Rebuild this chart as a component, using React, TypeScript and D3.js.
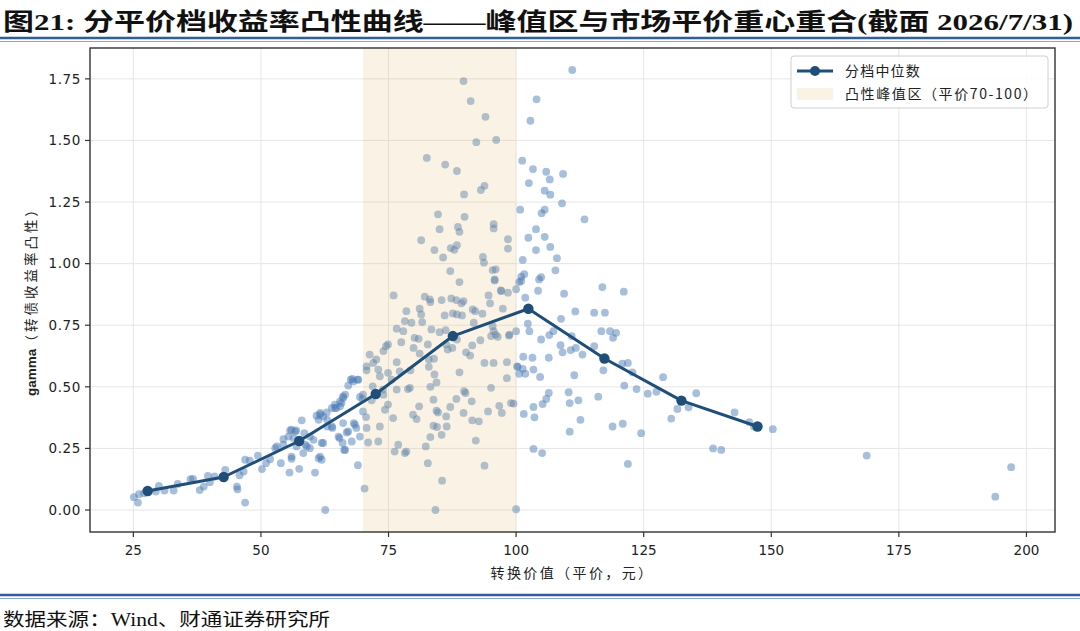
import * as d3 from "d3";

// 转换价值（平价）与 gamma 散点
const bondPoints: [number, number][] = [
  [25.1, 0.052], [25.9, 0.03], [26.1, 0.064], [27.1, 0.068], [29.4, 0.075], [30.0, 0.098], [31.1, 0.079],
  [32.9, 0.079], [33.7, 0.106], [36.2, 0.125], [36.7, 0.126], [38.0, 0.081], [38.8, 0.095], [39.6, 0.138],
  [40.0, 0.113], [40.9, 0.136], [43.0, 0.163], [45.3, 0.095], [45.4, 0.084], [45.8, 0.141], [46.6, 0.156],
  [46.9, 0.03], [46.9, 0.204], [47.8, 0.2], [49.4, 0.221], [50.2, 0.166], [51.0, 0.19], [51.8, 0.206],
  [52.8, 0.251], [53.9, 0.19], [54.4, 0.265], [55.6, 0.152], [55.7, 0.323], [56.0, 0.208], [56.4, 0.292],
  [56.9, 0.323], [57.0, 0.258], [57.5, 0.167], [58.0, 0.364], [58.5, 0.312], [59.0, 0.258], [59.6, 0.251],
  [60.6, 0.152], [60.9, 0.383], [61.3, 0.21], [61.6, 0.387], [61.9, 0.204], [62.2, 0.272], [62.6, 0.0],
  [62.9, 0.396], [63.0, 0.366], [63.9, 0.339], [64.5, 0.414], [65.4, 0.292], [65.5, 0.441], [65.8, 0.434],
  [66.1, 0.461], [66.3, 0.244], [66.8, 0.315], [67.1, 0.505], [67.6, 0.529], [67.8, 0.278], [68.2, 0.353],
  [69.0, 0.182], [69.1, 0.529],
  [61.6, 0.394], [66.5, 0.468], [67.9, 0.532], [68.9, 0.529], [64.5, 0.428], [64.8, 0.414], [63.9, 0.414],
  [66.1, 0.353], [68.7, 0.333], [65.2, 0.298], [67.1, 0.319], [66.0, 0.272], [66.5, 0.244], [62.2, 0.38],
  [61.3, 0.366], [63.0, 0.339], [64.0, 0.333], [59.6, 0.298], [60.3, 0.285], [58.7, 0.265], [61.9, 0.272],
  [56.7, 0.319], [56.0, 0.326], [55.4, 0.298], [54.4, 0.288], [53.1, 0.258], [58.3, 0.231], [61.6, 0.217],
  [56.0, 0.217], [68.1, 0.522], [65.5, 0.421], [66.1, 0.455],
  [76.0, 0.871], [78.5, 0.807], [76.6, 0.736], [77.9, 0.726], [78.2, 0.767], [74.9, 0.672], [74.5, 0.665],
  [74.0, 0.645], [71.3, 0.631], [72.6, 0.611], [72.0, 0.597], [70.7, 0.583], [73.0, 0.57], [73.3, 0.543],
  [76.6, 0.6], [77.2, 0.563], [71.9, 0.502], [74.0, 0.468], [76.6, 0.489], [78.8, 0.491], [70.0, 0.468],
  [71.7, 0.445], [74.9, 0.428], [74.3, 0.407], [70.0, 0.4], [70.6, 0.377], [75.9, 0.373], [73.3, 0.339],
  [70.7, 0.333], [68.4, 0.346], [69.4, 0.298], [71.0, 0.274], [73.0, 0.278], [76.9, 0.265], [76.2, 0.237],
  [78.2, 0.231], [77.5, 0.681], [74.9, 0.557], [75.6, 0.529], [73.9, 0.489], [69.4, 0.459], [69.9, 0.451],
  [70.3, 0.087], [70.7, 0.567], [78.5, 0.237],
  [88.9, 0.925], [95.8, 0.932], [101.0, 0.93], [82.1, 0.866], [83.1, 0.855], [83.2, 0.844], [85.4, 0.852],
  [87.3, 0.859], [88.3, 0.852], [89.3, 0.839], [89.7, 0.848], [94.6, 0.871], [94.9, 0.839], [97.1, 0.889],
  [98.4, 0.882], [100.0, 0.896], [101.8, 0.862], [81.1, 0.817], [81.4, 0.794], [86.0, 0.79], [87.6, 0.798],
  [88.4, 0.794], [89.4, 0.79], [91.5, 0.814], [92.0, 0.807], [93.4, 0.797], [97.4, 0.817], [79.5, 0.76],
  [81.6, 0.763], [83.4, 0.733], [85.0, 0.722], [86.2, 0.73], [91.7, 0.76], [95.4, 0.746], [95.6, 0.726],
  [96.0, 0.712], [95.1, 0.706], [96.4, 0.703], [98.7, 0.712], [100.0, 0.726], [80.1, 0.699], [80.9, 0.695],
  [82.7, 0.672], [86.3, 0.672], [86.6, 0.651], [87.5, 0.658], [88.4, 0.692], [93.0, 0.689], [79.9, 0.658],
  [81.1, 0.635], [82.9, 0.611], [83.9, 0.614], [90.2, 0.64], [91.0, 0.627], [91.4, 0.668], [82.9, 0.581],
  [79.3, 0.567], [84.0, 0.55], [88.9, 0.559], [93.8, 0.597], [95.6, 0.597], [98.2, 0.6], [98.2, 0.535],
  [100.2, 0.583], [84.4, 0.518], [83.2, 0.5], [79.2, 0.496], [95.1, 0.496], [89.8, 0.482], [90.1, 0.475],
  [83.8, 0.448], [88.3, 0.451], [91.3, 0.441], [99.0, 0.434], [99.5, 0.432], [81.0, 0.421], [87.1, 0.418],
  [96.7, 0.423], [84.4, 0.403], [84.7, 0.396], [94.5, 0.4], [97.2, 0.394], [89.7, 0.394], [79.8, 0.387],
  [80.5, 0.369], [86.3, 0.38], [91.4, 0.364], [92.7, 0.36], [83.8, 0.342], [84.5, 0.337], [86.4, 0.339],
  [85.4, 0.305], [83.2, 0.296], [92.1, 0.282], [82.3, 0.258], [82.7, 0.19], [93.8, 0.18], [85.5, 0.119],
  [84.2, 0.0], [100.0, 0.003],
  [89.7, 1.741], [91.1, 1.66], [94.0, 1.596], [92.2, 1.493], [96.1, 1.502], [82.5, 1.429], [86.1, 1.402],
  [88.4, 1.376], [93.1, 1.299], [93.8, 1.316], [89.8, 1.281], [84.7, 1.2], [89.9, 1.19], [85.0, 1.14],
  [88.6, 1.149], [88.9, 1.129], [95.6, 1.16], [95.6, 1.143], [81.4, 1.095], [84.0, 1.055], [85.7, 1.025],
  [87.2, 1.063], [87.9, 1.056], [88.4, 1.075], [98.4, 1.099], [98.4, 1.061], [93.5, 1.027], [93.7, 1.004],
  [95.4, 0.974], [96.0, 0.977], [95.8, 0.936], [87.1, 0.97], [97.0, 0.891],
  [101.2, 1.418], [102.8, 1.58], [104.0, 1.667], [103.3, 1.384], [102.5, 1.327], [100.8, 1.219],
  [102.4, 1.105], [103.9, 1.14], [103.9, 1.055], [101.3, 1.015], [101.0, 0.947], [101.6, 0.957], [100.6, 0.925],
  [111.0, 1.786], [105.9, 1.373], [106.6, 1.342], [109.2, 1.364], [105.6, 1.296], [106.7, 1.28], [109.0, 1.245],
  [105.6, 1.219], [105.0, 1.205], [113.4, 1.18], [105.6, 1.109], [106.7, 1.068], [108.0, 1.022], [107.7, 0.973],
  [104.9, 0.945], [104.3, 0.89], [116.9, 0.905], [121.1, 0.886], [109.4, 0.878],
  [104.5, 0.936], [111.6, 0.806], [115.3, 0.801], [117.4, 0.801], [108.8, 0.776], [102.3, 0.756], [102.6, 0.726],
  [107.3, 0.726], [106.5, 0.71], [104.9, 0.692], [98.6, 0.708], [110.9, 0.706], [116.7, 0.726], [118.4, 0.726],
  [119.6, 0.719], [119.0, 0.699], [108.7, 0.669], [109.1, 0.64], [110.7, 0.649], [111.7, 0.658], [113.0, 0.631],
  [115.3, 0.665], [101.4, 0.622], [103.2, 0.618], [106.4, 0.618], [100.3, 0.581], [101.3, 0.573], [100.6, 0.553],
  [101.8, 0.553], [103.4, 0.57], [104.7, 0.54], [111.4, 0.547], [117.1, 0.567], [120.8, 0.594], [121.9, 0.597],
  [122.8, 0.559], [121.2, 0.505], [123.6, 0.491], [125.8, 0.472], [127.5, 0.48], [106.4, 0.475], [105.9, 0.451],
  [105.2, 0.43], [103.4, 0.418], [110.3, 0.478], [110.5, 0.434], [112.2, 0.445], [116.1, 0.46], [101.5, 0.39],
  [103.6, 0.376], [112.6, 0.366], [118.9, 0.339], [120.9, 0.35], [124.5, 0.312], [110.5, 0.318], [103.4, 0.248],
  [105.1, 0.231], [121.9, 0.187],
  [128.8, 0.539], [130.4, 0.371], [131.6, 0.41], [133.8, 0.417], [135.3, 0.474], [138.6, 0.25], [140.2, 0.244],
  [142.8, 0.396], [145.7, 0.357], [146.6, 0.339], [150.3, 0.328], [168.7, 0.221], [193.9, 0.054], [197.0, 0.174],
];

// 分档中位数
const medianPrice = [27.8, 42.7, 57.5, 72.5, 87.6, 102.4, 117.3, 132.4, 147.3];
const medianGamma = [0.077, 0.134, 0.28, 0.471, 0.706, 0.817, 0.615, 0.444, 0.339];

const peakZone = [70, 100];
const xTicks = [25, 50, 75, 100, 125, 150, 175, 200];
const yTicks = [0, 0.25, 0.5, 0.75, 1.0, 1.25, 1.5, 1.75];

const W = 1080;
const H = 631;
const frame = { left: 90, right: 1055, top: 48, bottom: 532 };

const cjk = "'Noto Sans CJK SC', 'DejaVu Sans', sans-serif";
const navy = "#1f4e79";
const dotBlue = "#4a7ab3";
const bandColor = "#e0ba63";

export default function App() {
  // matplotlib 风格的 5% 边距
  const xExt = d3.extent(bondPoints, (d) => d[0]) as [number, number];
  const yExt = d3.extent(bondPoints, (d) => d[1]) as [number, number];
  const xPad = (xExt[1] - xExt[0]) * 0.05;
  const yPad = (yExt[1] - yExt[0]) * 0.05;

  const x = d3.scaleLinear().domain([xExt[0] - xPad, xExt[1] + xPad]).range([frame.left, frame.right]);
  const y = d3.scaleLinear().domain([yExt[0] - yPad, yExt[1] + yPad]).range([frame.bottom, frame.top]);

  const medianLine = d3
    .line<number>()
    .x((d) => x(d))
    .y((_, i) => y(medianGamma[i]));

  const fmt = d3.format(".2f");

  return (
    <svg width={W} height={H} style={{ position: "absolute", left: 0, top: 0, background: "#fff" }}>
      {/* 标题 */}
      <text
        x={3}
        y={30}
        fontFamily="'Liberation Serif', 'Noto Sans CJK SC', serif"
        fontWeight="bold"
        fontSize={24}
        fill="#111"
        textLength={1070}
        lengthAdjust="spacingAndGlyphs"
      >
        图21: 分平价档收益率凸性曲线——峰值区与市场平价重心重合(截面 2026/7/31)
      </text>
      <line x1={0} x2={W} y1={38} y2={38} stroke="#2f5d9e" strokeWidth={2.5} />
      <line x1={0} x2={W} y1={41.5} y2={41.5} stroke="#8aa6cf" strokeWidth={1} />

      {/* 网格 */}
      <g stroke="#e6e6e6" strokeWidth={1}>
        {xTicks.map((t) => (
          <line key={"gx" + t} x1={x(t)} x2={x(t)} y1={frame.top} y2={frame.bottom} />
        ))}
        {yTicks.map((t) => (
          <line key={"gy" + t} x1={frame.left} x2={frame.right} y1={y(t)} y2={y(t)} />
        ))}
      </g>

      {/* 散点 */}
      <g fill={dotBlue} fillOpacity={0.48}>
        {bondPoints.map((d, i) => (
          <circle key={i} cx={x(d[0])} cy={y(d[1])} r={3.9} />
        ))}
      </g>

      {/* 凸性峰值区 */}
      <rect
        x={x(peakZone[0])}
        y={frame.top}
        width={x(peakZone[1]) - x(peakZone[0])}
        height={frame.bottom - frame.top}
        fill={bandColor}
        fillOpacity={0.17}
      />

      {/* 分档中位数 */}
      <path d={medianLine(medianPrice) ?? ""} fill="none" stroke={navy} strokeWidth={3} strokeLinejoin="round" />
      {medianPrice.map((p, i) => (
        <circle key={"m" + i} cx={x(p)} cy={y(medianGamma[i])} r={5.2} fill={navy} />
      ))}

      {/* 坐标框与刻度 */}
      <rect
        x={frame.left}
        y={frame.top}
        width={frame.right - frame.left}
        height={frame.bottom - frame.top}
        fill="none"
        stroke="#333"
        strokeWidth={1.4}
      />
      {xTicks.map((t) => (
        <g key={"xt" + t}>
          <line x1={x(t)} x2={x(t)} y1={frame.bottom} y2={frame.bottom + 5} stroke="#333" strokeWidth={1.2} />
          <text x={x(t)} y={555} textAnchor="middle" fontFamily="'DejaVu Sans', sans-serif" fontSize={13.5} fill="#222">
            {t}
          </text>
        </g>
      ))}
      {yTicks.map((t) => (
        <g key={"yt" + t}>
          <line x1={frame.left - 5} x2={frame.left} y1={y(t)} y2={y(t)} stroke="#333" strokeWidth={1.2} />
          <text
            x={frame.left - 9}
            y={y(t)}
            dy="0.35em"
            textAnchor="end"
            fontFamily="'DejaVu Sans', sans-serif"
            fontSize={13.5}
            letterSpacing={0.6}
            fill="#222"
          >
            {fmt(t)}
          </text>
        </g>
      ))}

      {/* 轴标题 */}
      <text
        x={(frame.left + frame.right) / 2}
        y={578}
        textAnchor="middle"
        fontFamily={cjk}
        fontSize={14}
        letterSpacing={2.4}
        fill="#222"
      >
        转换价值（平价，元）
      </text>
      <text
        transform={`translate(36, ${(frame.top + frame.bottom) / 2 + 8}) rotate(-90)`}
        textAnchor="middle"
        fontFamily={cjk}
        fontSize={13.5}
        fill="#222"
      >
        <tspan fontFamily="'Liberation Sans', sans-serif" fontWeight="bold">gamma</tspan>
        <tspan letterSpacing={3}>（转债收益率凸性）</tspan>
      </text>

      {/* 图例 */}
      <g>
        <rect x={791} y={56} width={257} height={52} rx={3} fill="#fff" fillOpacity={0.85} stroke="#d0d0d0" />
        <line x1={797} x2={833} y1={71} y2={71} stroke={navy} strokeWidth={3} />
        <circle cx={815} cy={71} r={5} fill={navy} />
        <text x={845} y={71} dy="0.35em" fontFamily={cjk} fontSize={14} letterSpacing={1.2} fill="#222">
          分档中位数
        </text>
        <rect x={797} y={88} width={36} height={12} fill={bandColor} fillOpacity={0.17} />
        <text x={845} y={94} dy="0.35em" fontFamily={cjk} fontSize={14} letterSpacing={1.6} fill="#222">
          凸性峰值区（平价70-100）
        </text>
      </g>

      {/* 底部来源 */}
      <line x1={0} x2={W} y1={595} y2={595} stroke="#2f5d9e" strokeWidth={2.5} />
      <line x1={0} x2={W} y1={598.5} y2={598.5} stroke="#8aa6cf" strokeWidth={1} />
      <text
        x={3}
        y={626}
        fontFamily="'Liberation Serif', 'Noto Sans CJK SC', serif"
        fontSize={18}
        fill="#111"
        textLength={327}
        lengthAdjust="spacingAndGlyphs"
      >
        数据来源：Wind、财通证券研究所
      </text>
    </svg>
  );
}
